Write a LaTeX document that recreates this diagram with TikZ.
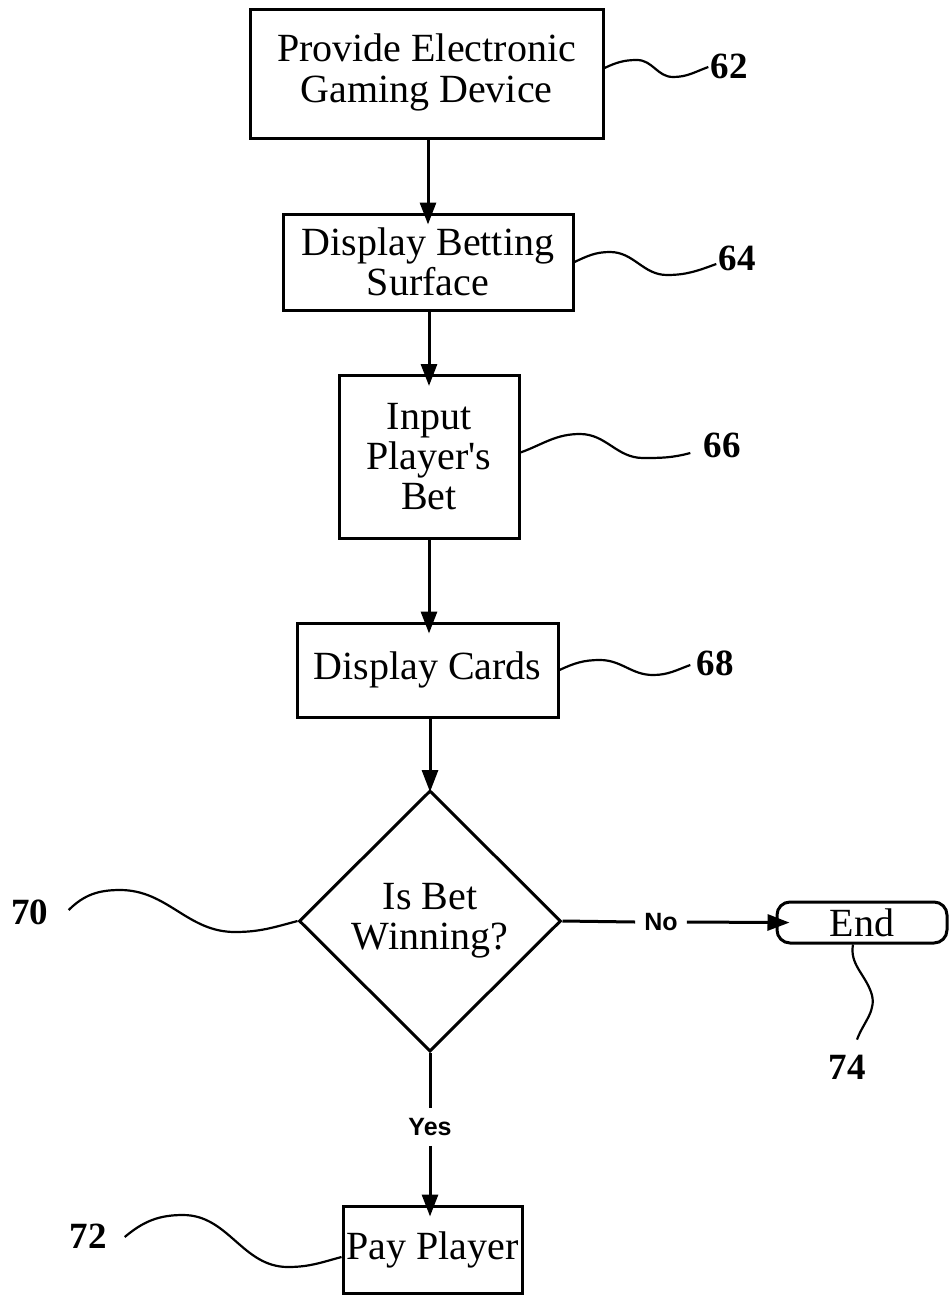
\documentclass[tikz,border=0pt]{standalone}
\usepackage{fontspec}
\setmainfont{Liberation Serif}[Ligatures=TeXOff]
\newfontfamily\lblsans{Liberation Sans}
\usetikzlibrary{arrows.meta,shapes.geometric}
\newcommand{\lowstack}[2]{\raisebox{#1}{\begin{tabular}{@{}c@{}}#2\end{tabular}}}
\begin{document}
\begin{tikzpicture}[x=1pt,y=-1pt,
  stepbox/.style={draw, line width=3pt, align=center, inner sep=0pt,
    font=\fontsize{40}{40}\selectfont},
  reflbl/.style={inner sep=2pt, font=\fontsize{37}{37}\selectfont\bfseries},
  leader/.style={line width=2.2pt},
  flow/.style={line width=3pt},
  arr/.style={line width=3pt, -{Triangle[length=22pt,width=16pt]}, shorten >=-12pt},
  branch/.style={inner xsep=9pt, inner ysep=10pt, font=\fontsize{25}{25}\selectfont\lblsans\bfseries}
]
\useasboundingbox (0,0) rectangle (948,1298);

% process steps
\node[stepbox, minimum width=353pt, minimum height=128pt] (b1) at (426.5,74) {\lowstack{-5pt}{Provide Electronic\\Gaming Device}};
\node[stepbox, minimum width=290pt, minimum height=96pt] (b2) at (428,262) {Display Betting\\Surface};
\node[stepbox, minimum width=180pt, minimum height=163pt] (b3) at (429,457) {Input\\Player's\\Bet};
\node[stepbox, diamond, aspect=1, minimum width=262pt, minimum height=261pt] (dia) at (430,921) {\lowstack{-5pt}{Is Bet\\Winning?}};
\node[stepbox, minimum width=261pt, minimum height=94pt] (b4) at (427.5,670) {Display Cards};
\node[stepbox, rounded corners=13pt, minimum width=170pt, minimum height=41pt] (end) at (862,922.5) {End};
\node[stepbox, minimum width=179pt, minimum height=87pt] (pay) at (432.5,1249.5) {Pay Player};

% branch labels
\node[branch] (no) at (661,922) {No};
\node[branch] (yes) at (430,1127) {Yes};

% reference numerals
\node[reflbl] (l62) at (729,66) {62};
\node[reflbl] (l64) at (737,258) {64};
\node[reflbl] (l66) at (722,445) {66};
\node[reflbl] (l68) at (715,663) {68};
\node[reflbl] (l70) at (30,912) {70};
\node[reflbl] (l72) at (88,1236) {72};
\node[reflbl] (l74) at (847,1067) {74};

% flow connectors
\draw[arr] (b1.south -| b2.north) -- (b2.north);
\draw[arr] (b2.south -| b3.north) -- (b3.north);
\draw[arr] (b3.south) -- (b3.south |- b4.north);
\draw[arr, shorten >=-3pt] (b4.south -| dia.north) -- (dia.north);
\draw[flow] (dia.east) -- (no.west);
\draw[arr, shorten >=-14pt] (no.east) -- (end.west);
\draw[flow] (dia.south) -- (yes.north);
\draw[arr] (yes.south) -- (yes.south |- pay.north);

% leader lines
\draw[leader] ([yshift=6pt]b1.east) to[out=25,in=180] (637,60) to[out=0,in=180] (673,77) to[out=0,in=200] ([yshift=-1pt]l62.west);
\draw[leader] (b2.east) to[out=25,in=180] (610,252) to[out=0,in=180] (667,275) to[out=0,in=200] ([yshift=-6pt]l64.west);
\draw[leader] ([yshift=4.5pt]b3.east) to[out=20,in=180] (580,434) to[out=0,in=180] (643,458) to[out=0,in=195] ([xshift=-11pt,yshift=-8pt]l66.west);
\draw[leader] (b4.east) to[out=25,in=180] (600,660) to[out=0,in=180] (653,675) to[out=0,in=200] ([xshift=-4pt,yshift=-2pt]l68.west);
\draw[leader] ([xshift=18pt,yshift=2pt]l70.east) to[out=45,in=180] (120,890) to[out=0,in=180] (235,932) to[out=0,in=195] (dia.west);
\draw[leader] ([xshift=16pt,yshift=-1pt]l72.east) to[out=40,in=180] (183,1215) to[out=0,in=180] (288,1267) to[out=0,in=195] ([yshift=-7.5pt]pay.west);
\draw[leader] ([xshift=-9pt]end.south) to[out=-100,in=110] (871,992) to[out=-70,in=70] ([xshift=10pt,yshift=13pt]l74.north);
\end{tikzpicture}
\end{document}
